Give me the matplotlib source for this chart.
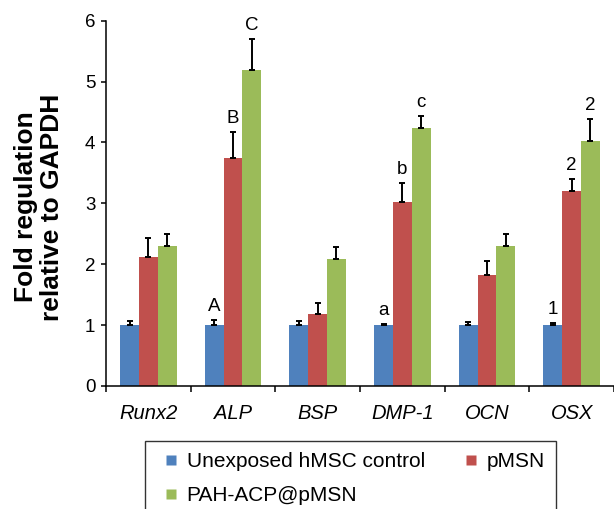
import matplotlib
matplotlib.use("Agg")
import matplotlib.pyplot as plt
from matplotlib.lines import Line2D
import numpy as np

plt.rcParams['font.family'] = ['Liberation Sans', 'DejaVu Sans']

genes = ["Runx2", "ALP", "BSP", "DMP-1", "OCN", "OSX"]
series_names = ["Unexposed hMSC control", "pMSN", "PAH-ACP@pMSN"]
control = [1.00, 1.00, 1.00, 1.00, 1.00, 1.00]
control_err = [0.06, 0.09, 0.07, 0.02, 0.05, 0.04]
pmsn = [2.12, 3.74, 1.19, 3.03, 1.82, 3.21]
pmsn_err = [0.31, 0.44, 0.18, 0.31, 0.24, 0.19]
pah = [2.30, 5.19, 2.09, 4.24, 2.30, 4.03]
pah_err = [0.20, 0.51, 0.19, 0.20, 0.20, 0.36]
colors = ["#4F81BD", "#C0504D", "#9BBB59"]
annot_control = ["", "A", "", "a", "", "1"]
annot_pmsn = ["", "B", "", "b", "", "2"]
annot_pah = ["", "C", "", "c", "", "2"]

fig = plt.figure(figsize=(6.14, 5.09), dpi=100)
ax = fig.add_axes([106/614, 123/509, 508/614, 365.3/509])

x = np.arange(len(genes))
w = 0.222
vals = [control, pmsn, pah]
errs = [control_err, pmsn_err, pah_err]
annots = [annot_control, annot_pmsn, annot_pah]
for i in range(3):
    xs = x + (i - 1) * w
    ax.bar(xs, vals[i], width=w, color=colors[i], edgecolor='none', zorder=2)
    ax.errorbar(xs, vals[i], yerr=[np.zeros(len(genes)), errs[i]], fmt='none',
                ecolor='black', elinewidth=1.4, capsize=2, capthick=1.4, zorder=3)
    for xi, v, e, t in zip(xs, vals[i], errs[i], annots[i]):
        if t:
            ax.annotate(t, (xi, v + e), xytext=(0, 3.5), textcoords='offset points',
                        ha='center', va='bottom', fontsize=13.5)

ax.set_ylim(0, 6)
ax.set_xlim(-0.5, -0.5 + 508/85.7)
ax.set_yticks(range(0, 7))
ax.tick_params(axis='y', direction='out', length=3.6, width=1.1, pad=4, labelsize=13.5)
ax.set_xticks(np.arange(-0.5, len(genes), 1.0))
ax.set_xticklabels([])
ax.tick_params(axis='x', which='major', direction='out', length=4, width=1.1)
ax.set_xticks(x, minor=True)
ax.set_xticklabels(genes, minor=True, fontstyle='italic', fontsize=14.5)
ax.tick_params(axis='x', which='minor', length=0, pad=13)
for s in ['top', 'right']:
    ax.spines[s].set_visible(False)
for s in ['left', 'bottom']:
    ax.spines[s].set_linewidth(1.1)

fig.text(39/614, 1 - 207/509, "Fold regulation\nrelative to GAPDH", rotation=90,
         ha='center', va='center', fontsize=19, fontweight='bold',
         multialignment='center', linespacing=1.1)

handles = [Line2D([], [], linestyle='none', marker='s', markersize=7.5,
                  markerfacecolor=c, markeredgecolor='none') for c in colors]
order = [0, 2, 1]
leg = fig.legend([handles[k] for k in order], [series_names[k] for k in order],
                 ncol=2, loc='upper left', bbox_to_anchor=(145/614, 1 - 441/509),
                 bbox_transform=fig.transFigure, fontsize=15, frameon=True,
                 fancybox=False, borderpad=0.55, handlelength=1.4, handletextpad=0.05,
                 labelspacing=0.7, columnspacing=1.5, borderaxespad=0)
leg.get_frame().set_edgecolor('black')
leg.get_frame().set_linewidth(1.0)

fig.savefig("out.png", dpi=100)
